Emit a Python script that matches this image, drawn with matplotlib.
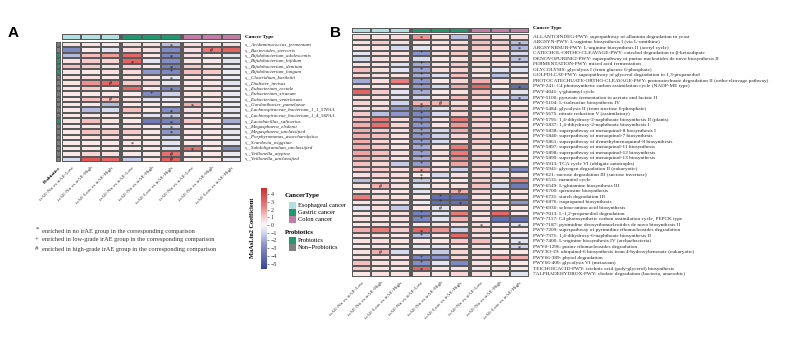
import numpy as np
import matplotlib
matplotlib.use("Agg")
import matplotlib.pyplot as plt
from matplotlib.colors import LinearSegmentedColormap, ListedColormap, Normalize
from matplotlib.patches import Rectangle
import matplotlib.cm as cm

W, H = 800, 338
SERIF = "Liberation Serif"

# ---- shared annotation data ----
comparisons = ["irAE-No vs irAE-Low", "irAE-No vs irAE-High", "irAE-Low vs irAE-High"] * 3
cancer_types = ["Esophageal cancer", "Gastric cancer", "Colon cancer"]
column_cancer = [0, 0, 0, 1, 1, 1, 2, 2, 2]
probiotic_groups = ["Probiotics", "Non\u2212Probiotics"]

# ---- panel A: species ----
species = [
    "s__Acidaminococcus_fermentans", "s__Bacteroides_stercoris",
    "s__Bifidobacterium_adolescentis", "s__Bifidobacterium_bifidum",
    "s__Bifidobacterium_dentium", "s__Bifidobacterium_longum",
    "s__Clostridium_bartlettii", "s__Dialister_invisus",
    "s__Eubacterium_rectale", "s__Eubacterium_siraeum",
    "s__Eubacterium_ventriosum", "s__Gordonibacter_pamelaeae",
    "s__Lachnospiraceae_bacterium_1_1_57FAA", "s__Lachnospiraceae_bacterium_1_4_56FAA",
    "s__Lactobacillus_salivarius", "s__Megasphaera_elsdenii",
    "s__Megasphaera_unclassified", "s__Porphyromonas_asaccharolytica",
    "s__Scardovia_wiggsiae", "s__Subdoligranulum_unclassified",
    "s__Veillonella_atypica", "s__Veillonella_unclassified",
]
is_probiotic = [0, 0, 1, 1, 1, 1, 0, 0, 0, 0, 0, 0, 0, 0, 1, 0, 0, 0, 0, 0, 0, 0]

coef_a = np.array([
    [0.6, 0.6, 0.4, 0.7, 0.6, -1.5, 0.7, 0.5, 0.6],
    [-3.0, 0.3, -0.6, 0.7, 0.6, -2.9, 0.6, 2.6, 3.2],
    [-1.6, 1.3, 1.9, 3.0, 0.4, -3.0, 0.6, 0.4, -0.6],
    [0.5, 1.1, 0.9, 3.2, -0.6, -2.8, 0.4, 0.4, -0.6],
    [1.3, 1.1, 0.6, 1.1, 0.4, -3.2, 1.1, 0.6, -0.5],
    [0.4, 0.4, 0.6, 0.7, -2.5, -3.0, 1.3, 1.1, -0.4],
    [0.5, 0.6, 0.4, 0.6, 0.5, -0.6, 0.5, 0.4, -0.4],
    [0.5, 2.1, 3.0, 1.1, 0.9, -0.5, 0.4, 0.4, -0.6],
    [0.4, 1.1, 0.4, 3.0, 0.4, -3.0, 0.5, 0.6, -0.4],
    [0.4, 0.4, 0.4, 0.3, -3.0, -1.1, 0.5, 0.5, -0.4],
    [0.4, 1.3, 1.3, 0.6, -0.6, -0.4, 0.4, 0.4, -0.4],
    [0.4, 0.4, -1.6, 0.4, 0.4, 0.3, 1.6, 0.4, -0.4],
    [0.4, -1.6, -0.9, 1.3, 0.4, -2.8, 0.6, 0.4, -0.5],
    [0.4, 0.4, 0.4, 0.5, -0.6, -1.3, 0.4, 0.4, -0.4],
    [0.4, 1.3, 0.5, 0.4, -3.5, -3.2, 1.1, 0.4, -1.9],
    [0.4, 0.5, 0.4, 0.6, 0.4, -1.1, 0.4, 0.4, -0.4],
    [0.4, 1.3, 1.1, 1.1, 0.4, -2.5, 0.5, 0.4, -0.5],
    [0.4, 0.6, 0.6, 0.5, 0.4, -0.9, 0.4, 0.4, -0.4],
    [0.4, 0.4, 0.4, 0.4, 0.4, -0.6, 0.4, 0.4, -0.4],
    [0.4, 0.4, 0.4, 0.4, 0.4, -0.7, 2.8, 0.4, -3.0],
    [0.4, 0.9, 0.6, 0.4, 0.4, 2.8, 0.4, 0.4, -0.4],
    [-0.9, 3.5, 3.0, -1.3, 0.4, 3.2, 0.4, 0.4, -0.4],
])
marks_a = [
    (0, 5, "*"), (1, 7, "#"), (2, 5, "*"), (3, 3, "*"), (4, 5, "*"), (5, 5, "+"),
    (6, 5, "*"), (7, 2, "#"), (8, 5, "*"), (9, 4, "+"), (10, 2, "#"), (11, 6, "*"),
    (12, 5, "*"), (13, 5, "*"), (14, 5, "*"), (15, 5, "*"), (16, 5, "*"),
    (18, 3, "*"), (19, 6, "*"), (20, 5, "#"), (21, 5, "#"),
]

# ---- panel B: pathways ----
pathways = [
    "ALLANTOINDEG-PWY: superpathway of allantoin degradation in yeast",
    "ARGSYN-PWY: L-arginine biosynthesis I (via L-ornithine)",
    "ARGSYNBSUB-PWY: L-arginine biosynthesis II (acetyl cycle)",
    "CATECHOL-ORTHO-CLEAVAGE-PWY: catechol degradation to \u03b2-ketoadipate",
    "DENOVOPURINE2-PWY: superpathway of purine nucleotides de novo biosynthesis II",
    "FERMENTATION-PWY: mixed acid fermentation",
    "GLYCOLYSIS: glycolysis I (from glucose 6-phosphate)",
    "GOLPDLCAT-PWY: superpathway of glycerol degradation to 1,3-propanediol",
    "PROTOCATECHUATE-ORTHO-CLEAVAGE-PWY: protocatechuate degradation II (ortho-cleavage pathway)",
    "PWY-241: C4 photosynthetic carbon assimilation cycle (NADP-ME type)",
    "PWY-4041: \u03b3-glutamyl cycle",
    "PWY-5100: pyruvate fermentation to acetate and lactate II",
    "PWY-5104: L-isoleucine biosynthesis IV",
    "PWY-5484: glycolysis II (from fructose 6-phosphate)",
    "PWY-5675: nitrate reduction V (assimilatory)",
    "PWY-5791: 1,4-dihydroxy-2-naphthoate biosynthesis II (plants)",
    "PWY-5837: 1,4-dihydroxy-2-naphthoate biosynthesis I",
    "PWY-5838: superpathway of menaquinol-8 biosynthesis I",
    "PWY-5840: superpathway of menaquinol-7 biosynthesis",
    "PWY-5861: superpathway of demethylmenaquinol-8 biosynthesis",
    "PWY-5897: superpathway of menaquinol-11 biosynthesis",
    "PWY-5898: superpathway of menaquinol-12 biosynthesis",
    "PWY-5899: superpathway of menaquinol-13 biosynthesis",
    "PWY-5913: TCA cycle VI (obligate autotrophs)",
    "PWY-5941: glycogen degradation II (eukaryotic)",
    "PWY-621: sucrose degradation III (sucrose invertase)",
    "PWY-6531: mannitol cycle",
    "PWY-6549: L-glutamine biosynthesis III",
    "PWY-6700: queuosine biosynthesis",
    "PWY-6731: starch degradation III",
    "PWY-6876: isopropanol biosynthesis",
    "PWY-6936: seleno-amino acid biosynthesis",
    "PWY-7013: L-1,2-propanediol degradation",
    "PWY-7117: C4 photosynthetic carbon assimilation cycle, PEPCK type",
    "PWY-7187: pyrimidine deoxyribonucleotides de novo biosynthesis II",
    "PWY-7209: superpathway of pyrimidine ribonucleosides degradation",
    "PWY-7371: 1,4-dihydroxy-6-naphthoate biosynthesis II",
    "PWY-7400: L-arginine biosynthesis IV (archaebacteria)",
    "PWY0-1296: purine ribonucleosides degradation",
    "PWY3O-19: ubiquinol-6 biosynthesis from 4-hydroxybenzoate (eukaryotic)",
    "PWY66-389: phytol degradation",
    "PWY66-400: glycolysis VI (metazoan)",
    "TEICHOICACID-PWY: teichoic acid (poly-glycerol) biosynthesis",
    "7ALPHADEHYDROX-PWY: cholate degradation (bacteria, anaerobic)",
]
coef_b = np.array([
    [0.7, 0.6, 0.7, 2.0, 0.6, -1.5, 1.1, 0.6, 0.6],
    [0.6, 1.1, 0.6, 0.5, 0.6, 0.7, 1.3, 1.1, -1.5],
    [0.4, 0.5, -0.9, -0.6, 0.4, 0.9, 1.1, 0.9, -1.8],
    [-0.6, 0.6, 0.5, -2.5, 0.5, 1.1, 0.7, 0.6, -0.9],
    [-0.9, 0.6, 0.6, -0.9, 0.4, 0.6, 0.9, 0.7, -1.5],
    [0.5, 0.5, -0.7, -2.0, 0.5, 1.1, 0.6, 0.5, -0.6],
    [1.3, 0.6, -0.6, -2.2, 0.7, 0.9, 0.6, -0.6, -0.7],
    [0.7, 0.6, 0.5, -2.0, -0.7, 1.3, 0.5, -1.5, 0.4],
    [-2.0, 0.6, 2.5, -2.5, 0.4, 0.9, 1.6, 0.6, 0.9],
    [0.6, 0.5, 0.6, -2.3, -0.9, 1.6, 3.0, 0.4, -4.0],
    [3.2, 1.1, -0.6, -2.0, 0.4, 0.6, 1.3, 0.7, -0.6],
    [0.6, 0.6, -0.6, -1.1, 0.5, 1.3, 0.9, -0.6, -1.5],
    [0.9, 0.6, -1.1, 1.5, 1.5, 0.7, 0.7, 0.6, 0.4],
    [0.6, 0.7, -2.5, -2.5, -0.6, 1.1, 0.5, 0.6, 0.6],
    [1.1, -1.5, -2.5, -3.0, -0.9, 0.9, 0.9, 0.4, 1.1],
    [1.3, 2.5, 0.6, -2.5, 0.4, 2.5, 1.1, 0.6, 0.6],
    [1.6, 2.8, 0.9, -2.5, 0.5, 2.0, 0.9, 0.5, 0.4],
    [1.6, 1.1, 0.6, -2.2, -0.9, 1.6, 1.1, 0.9, 0.5],
    [1.6, 1.3, 0.6, -2.5, -1.1, 0.9, 0.9, 0.6, 0.5],
    [1.6, 0.9, 0.4, -2.3, -0.9, 0.7, 1.1, 0.6, 0.5],
    [1.6, 1.1, 0.5, -2.0, 0.5, 2.5, 0.9, 0.5, 0.5],
    [1.8, 1.3, 0.6, -2.2, 0.6, 2.5, 1.1, 0.6, 0.5],
    [1.6, 1.1, 0.5, -2.0, 0.5, 2.2, 0.9, 0.5, 0.4],
    [1.3, 0.9, -1.3, -2.3, 0.4, 1.8, 1.1, 0.5, 0.4],
    [1.1, 1.1, 0.6, 1.5, 0.6, -1.1, 0.9, -1.1, -3.0],
    [0.6, 0.9, 0.6, 0.4, -0.9, 0.6, 0.7, 0.6, 0.5],
    [-1.5, 0.6, 0.6, -1.3, 0.4, 0.4, 1.1, 0.6, 2.5],
    [0.5, 1.6, 0.6, -0.6, 0.5, 0.6, 1.3, -0.9, -3.5],
    [0.5, 0.5, 0.4, -0.6, 0.6, 1.6, 0.9, 0.4, 0.5],
    [2.5, 0.9, 0.6, 0.5, -4.0, -4.0, 0.6, 0.4, 0.5],
    [0.5, 0.7, 0.6, -0.4, -4.0, -4.0, 0.7, 0.6, -2.5],
    [-0.6, 0.6, -1.3, 0.4, -0.6, 0.6, 0.7, 0.4, 0.4],
    [0.5, 0.6, 0.6, -3.2, -0.6, 2.5, 0.6, 3.0, 0.4],
    [0.6, 0.5, 0.6, -3.0, -0.6, 1.6, 0.6, -4.0, -4.0],
    [0.4, 0.6, 0.5, 0.4, 0.5, 0.6, 0.6, 0.4, -0.6],
    [1.6, 2.5, 1.1, 3.0, 2.0, -1.1, 0.9, 0.5, 0.4],
    [0.5, 0.6, 0.4, -1.5, 0.4, 3.0, 0.6, 0.4, -0.5],
    [0.5, 0.6, 0.5, 0.4, 0.5, 1.1, 1.3, 0.4, -0.6],
    [0.4, 0.5, 0.4, -0.6, -0.6, 0.5, 0.6, 0.4, -1.1],
    [0.6, 1.6, -0.9, 0.4, -1.3, 0.9, 0.6, 0.4, 0.4],
    [0.6, 0.5, 0.4, -3.0, -2.5, 0.9, 0.7, 1.6, 1.6],
    [1.3, 0.6, 0.6, -2.8, -0.6, -3.0, 0.6, 0.4, 0.4],
    [1.1, 0.5, 0.4, 3.2, 0.5, 0.6, 0.5, 0.6, 0.4],
    [0.4, 0.6, 0.5, 0.5, 0.4, 0.9, 0.6, 0.4, -0.6],
])
marks_b = [(0, 3, "*"), (1, 8, "*"), (2, 8, "*"), (3, 3, "+"), (4, 8, "*"),
           (9, 8, "*"), (11, 8, "*"), (12, 3, "*"), (12, 4, "#"),
           (24, 3, "*"), (25, 3, "*"), (26, 3, "+"), (27, 1, "#"), (28, 5, "#"),
           (29, 4, "+"), (30, 4, "+"), (30, 5, "*"), (31, 4, "#"),
           (32, 3, "+"), (33, 3, "+"), (34, 6, "*"), (34, 8, "*"), (35, 3, "*"),
           (36, 3, "+"), (37, 8, "*"), (38, 8, "*"), (39, 1, "#"),
           (40, 3, "+"), (41, 3, "+"), (42, 3, "*")]
marks_b += [(r, 3, "+") for r in list(range(5, 11)) + list(range(13, 24))]

# ---- colours ----
VMIN, VMAX = -5.7, 4.8
cmap = LinearSegmentedColormap.from_list("coef", [
    ((VMIN - VMIN) / (VMAX - VMIN), "#34449a"),
    ((-2.5 - VMIN) / (VMAX - VMIN), "#8d95cb"),
    ((-0.8 - VMIN) / (VMAX - VMIN), "#dcdeef"),
    ((0 - VMIN) / (VMAX - VMIN), "#fbf5f5"),
    ((0.9 - VMIN) / (VMAX - VMIN), "#f8d5d5"),
    ((2.5 - VMIN) / (VMAX - VMIN), "#ea7b7b"),
    (1.0, "#d42a2a"),
])
norm = Normalize(VMIN, VMAX)
cancer_colors = ["#b3dfe0", "#1f9a6e", "#c47ca6"]
probiotic_colors = ["#1f9a6e", "#7f7f7f"]
EDGE = "#5a5a5a"
GAP = 0.1

fig = plt.figure(figsize=(W / 100, H / 100), dpi=100)
fig.patch.set_facecolor("white")


def px_axes(x, y, w, h):
    return fig.add_axes([x / W, 1 - (y + h) / H, w / W, h / H])


def col_edges(g):
    return g * (3 + GAP) + np.arange(4)


def col_center(c):
    return (c // 3) * (3 + GAP) + c % 3 + 0.5


def draw_heat(ax, data, marks):
    n = data.shape[0]
    for g in range(3):
        ax.pcolormesh(col_edges(g), np.arange(n + 1), data[:, 3 * g:3 * g + 3],
                      cmap=cmap, norm=norm, edgecolors=EDGE, linewidth=0.35)
    for r, c, s in marks:
        dy = 0.3 if s == "*" else 0.05
        ax.text(col_center(c), r + 0.5 + dy, s, ha="center", va="center",
                fontsize=4.3, color="#111111", family=SERIF)
    ax.set_xlim(0, 9 + 2 * GAP)
    ax.set_ylim(n, 0)
    ax.axis("off")


def draw_top_bar(ax):
    vals = np.array([column_cancer], dtype=float)
    for g in range(3):
        ax.pcolormesh(col_edges(g), [0, 1], vals[:, 3 * g:3 * g + 3],
                      cmap=ListedColormap(cancer_colors), vmin=-0.5, vmax=2.5,
                      edgecolors=EDGE, linewidth=0.35)
    ax.set_xlim(0, 9 + 2 * GAP)
    ax.set_ylim(1, 0)
    ax.axis("off")


def col_labels(ax, n):
    for c in range(9):
        ax.text(col_center(c), n + 0.7, comparisons[c], rotation=45, ha="right",
                va="top", rotation_mode="anchor", fontsize=3.7, family=SERIF,
                color="#333333", clip_on=False)


def row_labels(ax, labels, italic):
    for i, lab in enumerate(labels):
        ax.text(9 + 2 * GAP + 0.2, i + 0.5, lab, ha="left", va="center",
                fontsize=3.6 if italic else 3.8, family=SERIF,
                style="italic" if italic else "normal", color="#222222",
                clip_on=False)


# ---- panel A ----
fig.text(8 / W, 1 - 33 / H, "A", fontsize=11, fontweight="bold",
         family="Liberation Sans", va="center")
ax_a = px_axes(62, 42, 179, 120)
draw_heat(ax_a, coef_a, marks_a)
col_labels(ax_a, len(species))
row_labels(ax_a, species, True)
ax_a.text(9 + 2 * GAP + 0.2, -1.0, "Cancer Type", fontsize=3.8, fontweight="bold",
          family=SERIF, ha="left", va="center", clip_on=False)
draw_top_bar(px_axes(62, 34, 179, 6))

ax_p = px_axes(56, 42, 5, 120)
ax_p.pcolormesh([0, 1], np.arange(len(species) + 1),
                np.array([[0 if p else 1] for p in is_probiotic], dtype=float),
                cmap=ListedColormap(probiotic_colors), vmin=-0.5, vmax=1.5,
                edgecolors=EDGE, linewidth=0.35)
ax_p.set_ylim(len(species), 0)
ax_p.axis("off")
ax_p.text(0.5, len(species) + 0.7, "Probiotics", rotation=45, ha="right", va="top",
          rotation_mode="anchor", fontsize=3.7, fontweight="bold", family=SERIF,
          clip_on=False)

# significance key
key = [("*", "enriched in no irAE group in the corresponding comparison"),
       ("+", "enriched in low-grade irAE group in the corresponding comparison"),
       ("#", "enriched in high-grade irAE group in the corresponding comparison")]
for i, (sym, txt) in enumerate(key):
    y = 231 + i * 9
    fig.text(37 / W, 1 - (y - (2 if sym == "*" else 0)) / H, sym, fontsize=5,
             family=SERIF, ha="center", va="center", color="#333333")
    fig.text(42 / W, 1 - y / H, txt, fontsize=4.6, family=SERIF, va="center",
             color="#333333")

# colour bar
cax = px_axes(261, 188, 5.5, 81)
cb = fig.colorbar(cm.ScalarMappable(norm=norm, cmap=cmap), cax=cax,
                  ticks=np.arange(-5, 5))
cb.outline.set_visible(False)
cax.tick_params(labelsize=4.3, length=1.5, width=0.4, pad=1.5, colors="#333333")
cax.set_yticklabels([str(v).replace("-", "\u2212") for v in range(-5, 5)])
for t in cax.get_yticklabels():
    t.set_family(SERIF)
fig.text(252 / W, 1 - 228 / H, "MaAsLin2 Coefficient", rotation=90, fontsize=4.6,
         fontweight="bold", family=SERIF, ha="center", va="center")

# annotation legends
leg = px_axes(283, 188, 60, 70)
leg.set_xlim(0, 60)
leg.set_ylim(70, 0)
leg.axis("off")
leg.text(2, 8, "CancerType", fontsize=4.8, fontweight="bold", family=SERIF, va="center")
for i, (name, col) in enumerate(zip(cancer_types, cancer_colors)):
    leg.add_patch(Rectangle((6, 14 + i * 7), 7, 7, facecolor=col, edgecolor="none"))
    leg.text(15, 17.5 + i * 7, name, fontsize=4.6, family=SERIF, va="center")
leg.text(2, 44, "Probiotics", fontsize=4.8, fontweight="bold", family=SERIF, va="center")
for i, (name, col) in enumerate(zip(probiotic_groups, probiotic_colors)):
    leg.add_patch(Rectangle((6, 49 + i * 7), 7, 7, facecolor=col, edgecolor="none"))
    leg.text(15, 52.5 + i * 7, name, fontsize=4.6, family=SERIF, va="center")

# ---- panel B ----
fig.text(330 / W, 1 - 33 / H, "B", fontsize=11, fontweight="bold",
         family="Liberation Sans", va="center")
ax_b = px_axes(352, 34, 177, 243)
draw_heat(ax_b, coef_b, marks_b)
col_labels(ax_b, len(pathways))
row_labels(ax_b, pathways, False)
ax_b.text(9 + 2 * GAP + 0.2, -1.1, "Cancer Type", fontsize=3.8, fontweight="bold",
          family=SERIF, ha="left", va="center", clip_on=False)
draw_top_bar(px_axes(352, 28, 177, 5))

fig.savefig("out.png", dpi=100, facecolor="white")
